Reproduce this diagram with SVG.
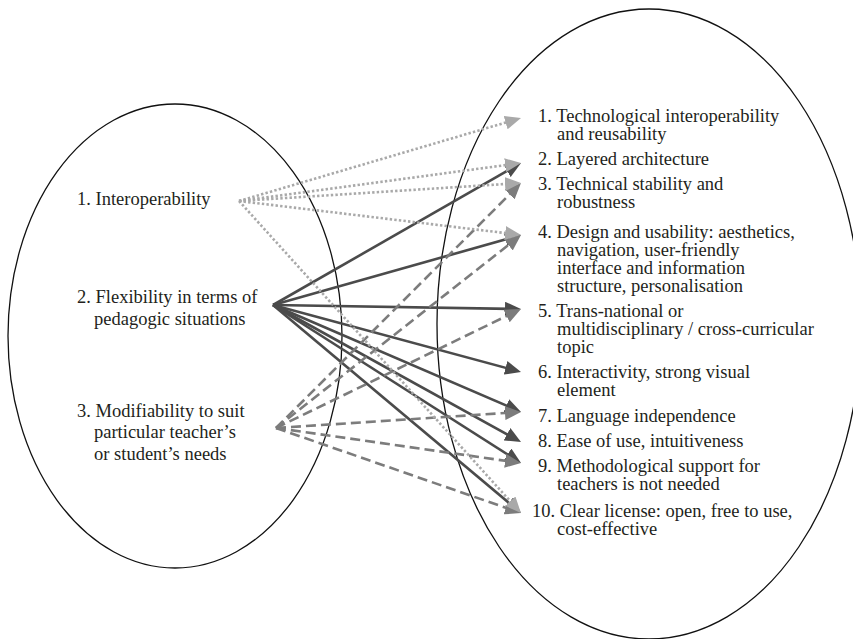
<svg xmlns="http://www.w3.org/2000/svg" width="853" height="639" viewBox="0 0 853 639">
<style>
  .ell { fill: none; stroke: #111; stroke-width: 1.3; }
  .t { font-family: "Liberation Serif", "Times New Roman", serif; font-size: 18.5px; fill: #231f20; }
  .dot { fill: none; stroke: #a9a9a9; stroke-width: 2.6; stroke-dasharray: 2.4 2.2; marker-end: url(#hLight); }
  .sol { fill: none; stroke: #4b4b4b; stroke-width: 2.6; marker-end: url(#hDark); }
  .dash { fill: none; stroke: #7c7c7c; stroke-width: 2.6; stroke-dasharray: 10 5; marker-end: url(#hMid); }
</style>
<defs>
  <marker id="hLight" markerUnits="userSpaceOnUse" viewBox="0 0 16 14" markerWidth="16" markerHeight="14" refX="8" refY="7" orient="auto">
    <path d="M0,0 L16,7 L0,14 Z" fill="#a9a9a9"/>
  </marker>
  <marker id="hDark" markerUnits="userSpaceOnUse" viewBox="0 0 16 14" markerWidth="16" markerHeight="14" refX="8" refY="7" orient="auto">
    <path d="M0,0 L16,7 L0,14 Z" fill="#4b4b4b"/>
  </marker>
  <marker id="hMid" markerUnits="userSpaceOnUse" viewBox="0 0 16 14" markerWidth="16" markerHeight="14" refX="8" refY="7" orient="auto">
    <path d="M0,0 L16,7 L0,14 Z" fill="#7c7c7c"/>
  </marker>
</defs>
<rect width="853" height="639" fill="#ffffff"/>

<g id="left-set">
  <ellipse class="ell" cx="175" cy="336" rx="167" ry="232"/>
</g>
<g id="right-set">
  <ellipse class="ell" cx="649" cy="324" rx="212" ry="315"/>
</g>

<g id="connectors">
  <!-- Flexibility (solid) -->
  <line class="sol" x1="273" y1="305" x2="514.1" y2="167.0"/>
  <line class="sol" x1="273" y1="305" x2="513.3" y2="237.2"/>
  <line class="sol" x1="273" y1="305" x2="513.0" y2="308.9"/>
  <line class="sol" x1="273" y1="305" x2="513.3" y2="369.9"/>
  <line class="sol" x1="273" y1="305" x2="513.7" y2="408.8"/>
  <line class="sol" x1="273" y1="305" x2="514.0" y2="438.1"/>
  <line class="sol" x1="273" y1="305" x2="514.3" y2="458.7"/>
  <line class="sol" x1="273" y1="305" x2="514.9" y2="507.9"/>
  <!-- Modifiability (dashed) -->
  <line class="dash" x1="276" y1="428" x2="515.3" y2="188.7"/>
  <line class="dash" x1="276" y1="428" x2="514.7" y2="240.0"/>
  <line class="dash" x1="276" y1="428" x2="513.8" y2="312.5"/>
  <line class="dash" x1="276" y1="428" x2="513.0" y2="412.5"/>
  <line class="dash" x1="276" y1="428" x2="513.1" y2="461.9"/>
  <line class="dash" x1="276" y1="428" x2="513.4" y2="510.4"/>
  <!-- Interoperability (dotted) -->
  <line class="dot" x1="239" y1="201" x2="513.3" y2="120.3"/>
  <line class="dot" x1="239" y1="201" x2="513.1" y2="164.1"/>
  <line class="dot" x1="239" y1="201" x2="513.0" y2="183.5"/>
  <line class="dot" x1="239" y1="201" x2="513.1" y2="234.0"/>
  <line class="dot" x1="239" y1="201" x2="515.6" y2="507.1"/>
</g>

<g id="src-1"><text class="t" x="77" y="205">1. Interoperability</text></g>
<g id="src-2">
  <text class="t" x="77" y="303">2. Flexibility in terms of</text>
  <text class="t" x="94" y="325">pedagogic situations</text>
</g>
<g id="src-3">
  <text class="t" x="77" y="417">3. Modifiability to suit</text>
  <text class="t" x="94" y="438">particular teacher’s</text>
  <text class="t" x="94" y="460">or student’s needs</text>
</g>

<g id="dst-1">
  <text class="t" x="538" y="122">1. Technological interoperability</text>
  <text class="t" x="557" y="140">and reusability</text>
</g>
<g id="dst-2"><text class="t" x="538" y="165">2. Layered architecture</text></g>
<g id="dst-3">
  <text class="t" x="538" y="190">3. Technical stability and</text>
  <text class="t" x="557" y="208">robustness</text>
</g>
<g id="dst-4">
  <text class="t" x="538" y="238">4. Design and usability: aesthetics,</text>
  <text class="t" x="557" y="256">navigation, user-friendly</text>
  <text class="t" x="557" y="274">interface and information</text>
  <text class="t" x="557" y="292">structure, personalisation</text>
</g>
<g id="dst-5">
  <text class="t" x="538" y="317">5. Trans-national or</text>
  <text class="t" x="557" y="335">multidisciplinary / cross-curricular</text>
  <text class="t" x="557" y="353">topic</text>
</g>
<g id="dst-6">
  <text class="t" x="538" y="378">6. Interactivity, strong visual</text>
  <text class="t" x="557" y="396">element</text>
</g>
<g id="dst-7"><text class="t" x="538" y="422">7. Language independence</text></g>
<g id="dst-8"><text class="t" x="538" y="447">8. Ease of use, intuitiveness</text></g>
<g id="dst-9">
  <text class="t" x="538" y="472">9. Methodological support for</text>
  <text class="t" x="557" y="490">teachers is not needed</text>
</g>
<g id="dst-10">
  <text class="t" x="532" y="517">10. Clear license: open, free to use,</text>
  <text class="t" x="557" y="535">cost-effective</text>
</g>
</svg>
